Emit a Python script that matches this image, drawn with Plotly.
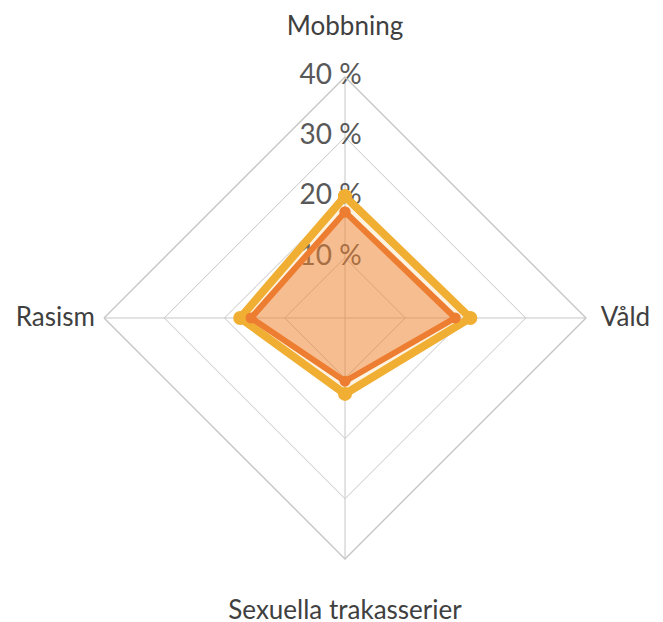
import plotly.graph_objects as go

categories = ["Mobbning", "Våld", "Sexuella trakasserier", "Rasism"]
series_yellow = [20.2, 20.8, 12.6, 17.4]
series_orange = [17.6, 18.3, 10.5, 15.6]
radial_ticks = [10, 20, 30, 40]
radial_ticktext = ["10 %", "20 %", "30 %", "40 %"]

font_family = "Lato, 'Open Sans', sans-serif"
text_color = "#595959"
grid_color = "#C6C6C6"

def closed(vals):
    return list(vals) + [vals[0]]

def cat_label(name):
    shown = name
    if name == categories[1]:
        shown = "\u00a0" + name
    span = "<span style='font-size:26px'>" + shown + "</span>"
    if name == categories[0]:
        return span + "<br> "
    if name == categories[2]:
        return "<br>" + span
    return span

fig = go.Figure()
# radial tick labels, placed on the Mobbning spoke, underneath the series
pad = "\u00a0" * 4
fig.add_trace(go.Scatterpolar(
    r=radial_ticks, theta=[categories[0]] * len(radial_ticks),
    mode="text", text=[t + pad for t in radial_ticktext],
    textposition="middle center",
    textfont=dict(size=28, color=text_color, family=font_family),
    showlegend=False, hoverinfo="skip",
))
fig.add_trace(go.Scatterpolar(
    r=closed(series_yellow), theta=closed(categories),
    mode="lines+markers", fill="toself",
    fillcolor="rgba(240,176,48,0.15)",
    line=dict(color="#F0AE33", width=8),
    marker=dict(color="#F0AE33", size=14),
    showlegend=False, hoverinfo="skip",
))
fig.add_trace(go.Scatterpolar(
    r=closed(series_orange), theta=closed(categories),
    mode="lines+markers", fill="toself",
    fillcolor="rgba(237,125,49,0.45)",
    line=dict(color="#ED7D31", width=6),
    marker=dict(color="#ED7D31", size=11),
    showlegend=False, hoverinfo="skip",
))

fig.update_layout(
    width=663, height=622,
    margin=dict(l=0, r=0, t=0, b=0),
    paper_bgcolor="white",
    font=dict(family=font_family, color=text_color),
    polar=dict(
        domain=dict(x=[0.1448, 0.8718], y=[0.1142, 0.8891]),
        bgcolor="white",
        gridshape="linear",
        angularaxis=dict(
            rotation=90, direction="clockwise",
            categoryorder="array", categoryarray=categories,
            tickmode="array", tickvals=categories,
            ticktext=[cat_label(c) for c in categories],
            showline=True, linecolor=grid_color, linewidth=1.4,
            gridcolor=grid_color, gridwidth=1.4,
            ticks="outside", ticklen=4, tickcolor="rgba(0,0,0,0)",
            tickfont=dict(size=22, color="#404040"),
        ),
        radialaxis=dict(
            range=[0, 40], tickvals=radial_ticks,
            angle=90, showline=False, ticks="", showticklabels=False,
            gridcolor=grid_color, gridwidth=1.4,
        ),
    ),
)

fig.write_html("out.html")
